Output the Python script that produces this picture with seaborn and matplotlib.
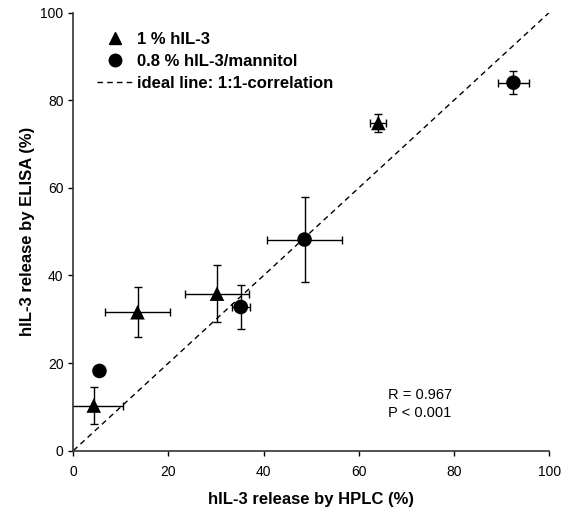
import numpy as np
import pandas as pd
import matplotlib
matplotlib.use("Agg")
import matplotlib.pyplot as plt
import seaborn as sns
from matplotlib.lines import Line2D

# 1 % hIL-3
tri_hplc = [4.3, 13.5, 30.2, 64.1]
tri_hplc_err = [6.2, 6.85, 6.65, 1.65]
tri_elisa = [10.3, 31.6, 35.85, 74.8]
tri_elisa_err = [4.3, 5.7, 6.5, 2.0]

# 0.8 % hIL-3/mannitol
circ_hplc = [5.5, 35.2, 48.6, 92.5]
circ_hplc_err = [0.5, 1.9, 7.9, 3.35]
circ_elisa = [18.2, 32.8, 48.2, 84.0]
circ_elisa_err = [0.6, 5.0, 9.6, 2.65]

groups = ["1 % hIL-3", "0.8 % hIL-3/mannitol"]

df = pd.DataFrame({
    "hplc": tri_hplc + circ_hplc,
    "hplc_err": tri_hplc_err + circ_hplc_err,
    "elisa": tri_elisa + circ_elisa,
    "elisa_err": tri_elisa_err + circ_elisa_err,
    "group": [groups[0]] * len(tri_hplc) + [groups[1]] * len(circ_hplc),
})

sns.set_style("ticks")
plt.rcParams["font.family"] = ["Liberation Sans", "DejaVu Sans"]
plt.rcParams["text.color"] = "black"
plt.rcParams["axes.labelcolor"] = "black"

fig = plt.figure(figsize=(5.74, 5.16), dpi=100)
ax = fig.add_axes([0.1277, 0.1266, 0.829, 0.849])

# ideal line
ax.plot([0, 100], [0, 100], ls=(0, (4, 3)), color="black", lw=1, zorder=1)

ax.errorbar(df["hplc"], df["elisa"], xerr=df["hplc_err"], yerr=df["elisa_err"],
            fmt="none", ecolor="black", elinewidth=1, capsize=3, capthick=1, zorder=2)

sns.scatterplot(data=df, x="hplc", y="elisa", style="group",
                markers={groups[0]: "^", groups[1]: "o"},
                color="black", s=110, edgecolor="black", linewidth=0,
                legend=False, ax=ax, zorder=3)

ax.set_xlim(0, 100)
ax.set_ylim(0, 100)
ax.set_xticks(range(0, 101, 20))
ax.set_yticks(range(0, 101, 20))
ax.tick_params(direction="out", length=3.5, width=1, labelsize=10,
               colors="black")
ax.tick_params(axis="x", pad=7)
ax.tick_params(axis="y", pad=3.5)
for side in ["left", "bottom"]:
    ax.spines[side].set_color("#333333")
    ax.spines[side].set_linewidth(1.2)
sns.despine(ax=ax)

ax.set_xlabel("hIL-3 release by HPLC (%)", fontsize=12, fontweight="bold", labelpad=9)
ax.set_ylabel("hIL-3 release by ELISA (%)", fontsize=12, fontweight="bold", labelpad=4)

handles = [
    Line2D([], [], marker="^", color="black", ls="none", markersize=9),
    Line2D([], [], marker="o", color="black", ls="none", markersize=9),
    Line2D([], [], color="black", ls=(0, (4, 3)), lw=1),
]
labels = groups + ["ideal line: 1:1-correlation"]
ax.legend(handles, labels, loc="upper left", bbox_to_anchor=(0.018, 0.99),
          frameon=False, prop={"weight": "bold", "size": 12},
          handlelength=2.2, handletextpad=0.2, labelspacing=0.42)

ax.text(66.2, 12.8, "R = 0.967", fontsize=10.5, va="center")
ax.text(66.2, 8.5, "P < 0.001", fontsize=10.5, va="center")

fig.savefig("out.png", dpi=100)
